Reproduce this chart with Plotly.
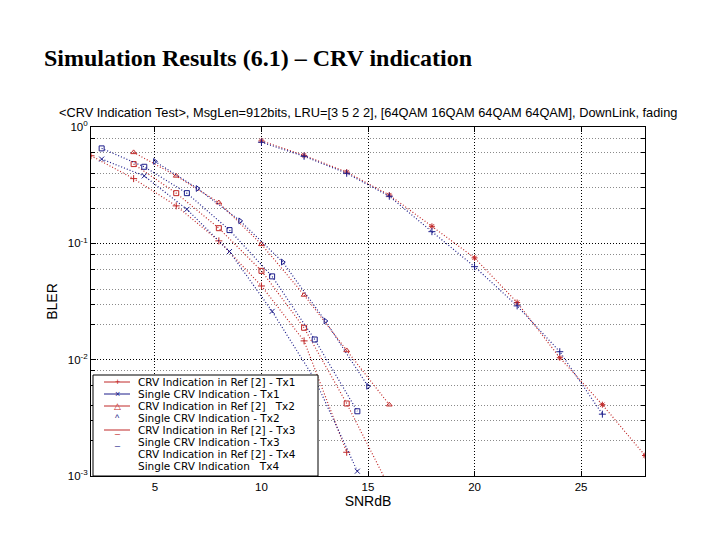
import plotly.graph_objects as go

# ---------------- data ----------------
snr_tx1_ref = [2, 4, 6, 8, 10, 12, 14]
bler_tx1_ref = [0.566, 0.36, 0.21, 0.105, 0.043, 0.0145, 0.0016]

snr_tx1_single = [2.5, 4.5, 6.5, 8.5, 10.5, 12.5, 14.5]
bler_tx1_single = [0.53, 0.38, 0.196, 0.085, 0.026, 0.0068, 0.0011]

snr_tx2_ref = [4, 6, 8, 10, 12, 14, 16]
bler_tx2_ref = [0.605, 0.38, 0.224, 0.098, 0.036, 0.012, 0.0041]

snr_tx2_single = [5, 7, 9, 11, 13, 15]
bler_tx2_single = [0.506, 0.296, 0.156, 0.069, 0.0215, 0.0059]

snr_tx3_ref = [4, 6, 8, 10, 12, 14, 16]
bler_tx3_ref = [0.48, 0.27, 0.135, 0.058, 0.0188, 0.0042, 0.0008]

snr_tx3_single = [2.5, 4.5, 6.5, 8.5, 10.5, 12.5, 14.5]
bler_tx3_single = [0.655, 0.455, 0.27, 0.13, 0.052, 0.0149, 0.0036]

snr_tx4_ref = [10, 12, 14, 16, 18, 20, 22, 24, 26, 28]
bler_tx4_ref = [0.76, 0.57, 0.41, 0.26, 0.14, 0.075, 0.031, 0.0104, 0.0041, 0.0015]

snr_tx4_single = [10, 12, 14, 16, 18, 20, 22, 24, 26]
bler_tx4_single = [0.74, 0.56, 0.40, 0.254, 0.126, 0.063, 0.029, 0.0117, 0.0034]

legend_labels = [
    "CRV Indication in Ref [2] - Tx1",
    "Single CRV Indication - Tx1",
    "CRV Indication in Ref [2]   Tx2",
    "Single CRV Indication - Tx2",
    "CRV Indication in Ref [2] - Tx3",
    "Single CRV Indication - Tx3",
    "CRV Indication in Ref [2] - Tx4",
    "Single CRV Indication   Tx4",
]

x_ticks = [5, 10, 15, 20, 25]
y_ticks = [0.001, 0.01, 0.1, 1]
y_ticktext = ["10<sup>-3</sup>", "10<sup>-2</sup>", "10<sup>-1</sup>", "10<sup>0</sup>"]
y_minor = [m * 10.0 ** e for e in (-3, -2, -1) for m in (2, 3, 4, 6, 8)]

RED = "#c02828"
BLUE = "#1c1c8a"
DOT = "1px,2px"

series = [
    (snr_tx1_ref, bler_tx1_ref, RED, "cross-thin-open"),
    (snr_tx1_single, bler_tx1_single, BLUE, "x-thin-open"),
    (snr_tx2_ref, bler_tx2_ref, RED, "triangle-up-open"),
    (snr_tx2_single, bler_tx2_single, BLUE, "triangle-right-open"),
    (snr_tx3_ref, bler_tx3_ref, RED, "square-open"),
    (snr_tx3_single, bler_tx3_single, BLUE, "square-open"),
    (snr_tx4_ref, bler_tx4_ref, RED, "asterisk-open"),
    (snr_tx4_single, bler_tx4_single, BLUE, "cross-thin-open"),
]

fig = go.Figure()
for (x, y, c, sym), name in zip(series, legend_labels):
    fig.add_trace(go.Scatter(
        x=x, y=y, mode="lines+markers", name=name, showlegend=False,
        line=dict(color=c, width=1.2, dash=DOT),
        marker=dict(symbol=sym, size=5, color=c, line=dict(color=c, width=1)),
    ))

# ---------------- manual MATLAB-style legend ----------------
L, R, T, B = 91, 645, 127, 476
W, H = R - L, B - T
def px(xp):
    return (xp - L) / W
def py(yp):
    return (B - yp) / H

fig.add_shape(type="rect", xref="paper", yref="paper",
              x0=px(93), x1=px(318), y0=py(476), y1=py(375),
              fillcolor="white", line=dict(color="black", width=1), layer="above")

legend_style = [
    (RED, True, "+"), (BLUE, True, "×"), (RED, True, "△"), (BLUE, False, "^"),
    (RED, True, "_"), (BLUE, False, "_"), (None, False, ""), (None, False, ""),
]
for i, (lab, (c, has_line, glyph)) in enumerate(zip(legend_labels, legend_style)):
    yc = 382 + 12 * i
    if has_line:
        fig.add_shape(type="line", xref="paper", yref="paper",
                      x0=px(104), x1=px(130), y0=py(yc), y1=py(yc),
                      line=dict(color=c, width=1), layer="above")
    if glyph:
        fig.add_annotation(xref="paper", yref="paper", x=px(117), y=py(yc),
                           text=glyph, showarrow=False, xanchor="center", yanchor="middle",
                           font=dict(family="Liberation Sans, Arial", size=9, color=c))
    fig.add_annotation(xref="paper", yref="paper", x=px(136), y=py(yc),
                       text=lab, showarrow=False, xanchor="left", yanchor="middle",
                       font=dict(family="DejaVu Sans", size=10.5, color="black"))

# plot title (MATLAB axes title)
fig.add_annotation(xref="paper", yref="paper", x=0.5, y=1, yanchor="bottom", yshift=5,
                   text="&lt;CRV Indication Test&gt;, MsgLen=912bits, LRU=[3 5 2 2], "
                        "[64QAM 16QAM 64QAM 64QAM], DownLink, fading",
                   showarrow=False, font=dict(family="Liberation Sans, Arial", size=12.8, color="black"))

fig.update_layout(
    width=720, height=540,
    margin=dict(l=L, r=720 - R, t=T, b=540 - B),
    paper_bgcolor="white", plot_bgcolor="white",
    font=dict(family="Liberation Sans, Arial", size=11.5, color="black"),
    title=dict(text="<b>Simulation Results (6.1) – CRV indication</b>",
               xref="container", yref="container", x=44 / 720, xanchor="left",
               y=1 - 58 / 540, yanchor="middle",
               font=dict(family="Liberation Serif, Times New Roman", size=24, color="black")),
    showlegend=False,
)
fig.update_xaxes(
    range=[2, 28], tickvals=x_ticks, ticks="inside", ticklen=5, tickcolor="black",
    showline=True, linecolor="black", linewidth=1, mirror="ticks",
    showgrid=True, gridcolor="black", griddash=DOT, gridwidth=1,
    zeroline=False, title=dict(text="SNRdB", standoff=4),
)
fig.update_yaxes(
    type="log", range=[-3, 0], tickvals=y_ticks, ticktext=y_ticktext,
    ticks="inside", ticklen=5, tickcolor="black",
    showline=True, linecolor="black", linewidth=1, mirror="ticks",
    showgrid=True, gridcolor="black", griddash=DOT, gridwidth=1,
    minor=dict(tickvals=y_minor, ticks="inside", ticklen=4, tickcolor="black",
               showgrid=True, gridcolor="#8a8a8a", griddash=DOT, gridwidth=1),
    zeroline=False, title=dict(text="BLER", standoff=6),
)

fig.write_html("out.html")
